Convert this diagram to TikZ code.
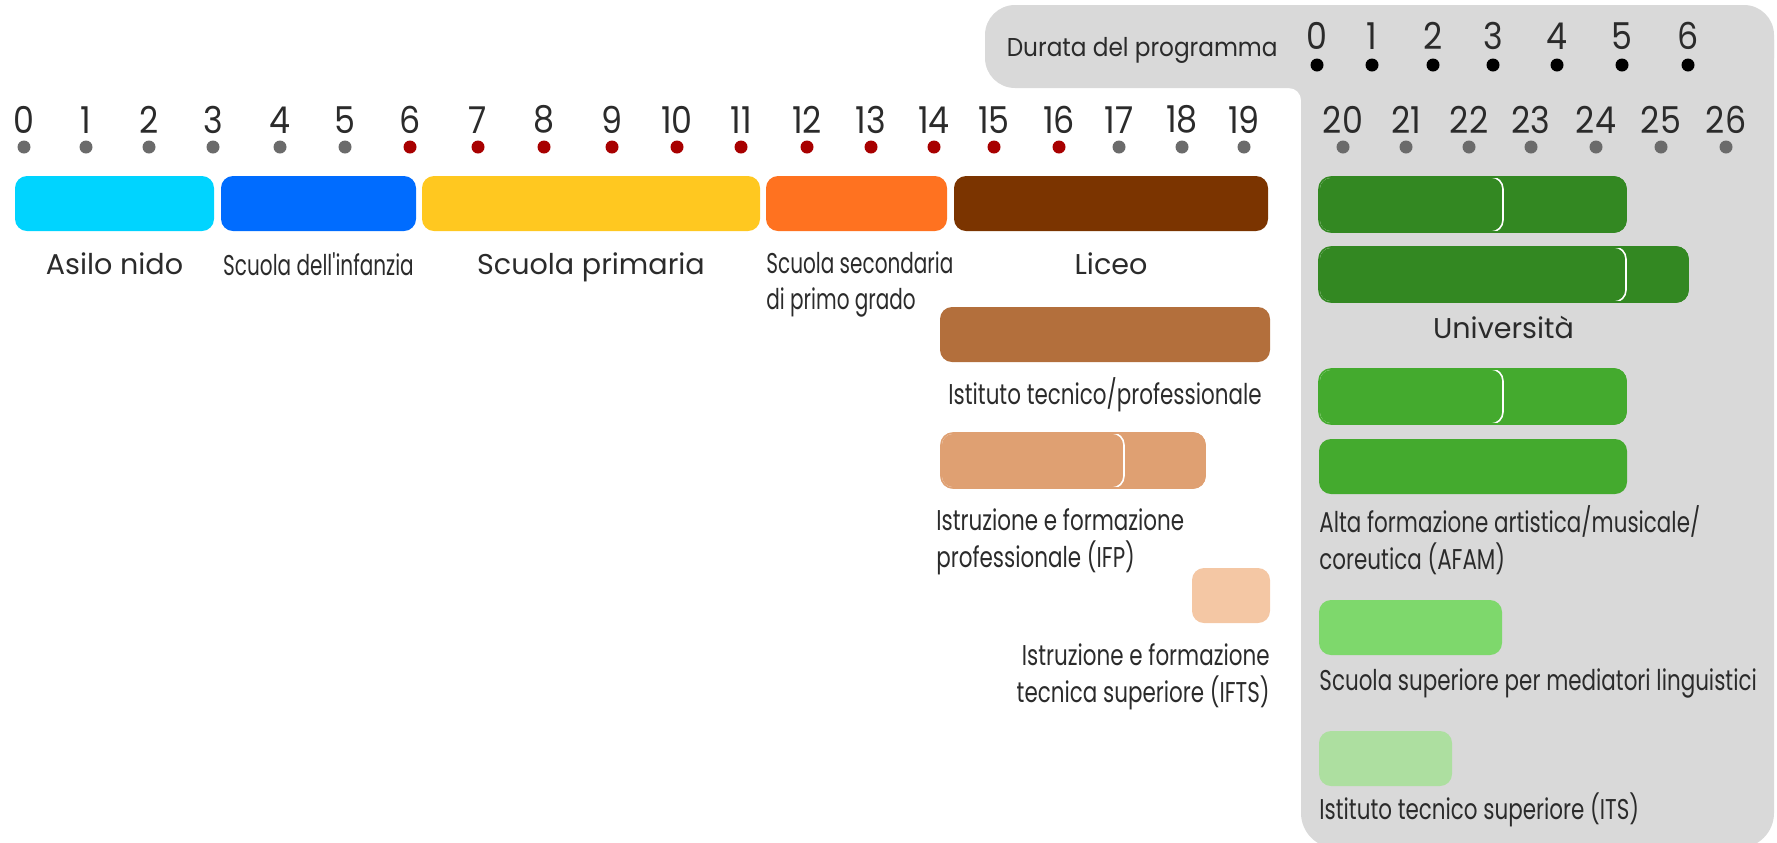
\documentclass[tikz,border=0pt]{standalone}
\usepackage{fontspec}
\setmainfont{Poppins}
\newfontfamily\numfont[FakeStretch=0.90]{Poppins}
\newfontfamily\bigfont{Poppins}
\newfontfamily\lblfont[FakeStretch=0.75]{Poppins}
\newfontfamily\narrowfont[FakeStretch=0.70]{Poppins}
\usetikzlibrary{positioning}
\usepackage{xcolor}
\definecolor{Ink}{HTML}{2B2B2B}
\definecolor{Panel}{HTML}{D9D9D9}
\definecolor{DotGrey}{HTML}{6B6B6B}
\definecolor{DotRed}{HTML}{A80000}
\definecolor{Nido}{HTML}{00D4FF}
\definecolor{Infanzia}{HTML}{006CFF}
\definecolor{Primaria}{HTML}{FFC820}
\definecolor{Secondaria}{HTML}{FF7220}
\definecolor{Liceo}{HTML}{7B3400}
\definecolor{Tecnico}{HTML}{B36F3C}
\definecolor{IFP}{HTML}{DFA072}
\definecolor{IFTS}{HTML}{F4C7A4}
\definecolor{Univ}{HTML}{338822}
\definecolor{AFAM}{HTML}{44AA2E}
\definecolor{Mediatori}{HTML}{7ED86C}
\definecolor{ITS}{HTML}{ADDFA0}
\tikzset{%
  bar/.style={%
    rectangle,%
    rounded corners=6pt,%
    minimum height=27.5pt,%
    inner sep=0pt,%
    outer sep=0pt,%
    anchor=north west,%
  },
  split_bar/.style={%
    bar,%
    draw=white,%
    line width=0.8pt,%
  },
  dot/.style={%
    circle,%
    inner sep=0pt,%
    minimum size=6.5pt,%
  },
  year/.style={%
    font={\numfont\fontsize{18.5}{18.5}\selectfont},%
    text=Ink,%
    inner sep=0pt,%
  },
  big_label/.style={%
    font={\bigfont\fontsize{14.3}{18}\selectfont},%
    text=Ink,%
    inner sep=0pt,%
  },
  small_label/.style={%
    font={\lblfont\fontsize{14.3}{18.5}\selectfont},%
    text=Ink,%
    inner sep=0pt,%
  },
  narrow_label/.style={%
    font={\narrowfont\fontsize{14.3}{18}\selectfont},%
    text=Ink,%
    inner sep=0pt,%
  },
}

\begin{document}
\begin{tikzpicture}[x=0.5pt, y=-0.5pt]

  \useasboundingbox (0,0) rectangle (1777,842);

  % panel for the programmes after 19
  \fill [Panel, rounded corners=15pt] (985,5) rectangle (1774,88);
  \fill [Panel, rounded corners=17.5pt] (1301,5) rectangle (1774,848);
  \fill [Panel] (1301,88) -- (1301,100) .. controls (1301,93.4) and (1295.6,88) .. (1289,88) -- cycle;

  % ages
  \foreach \n/\x in {0/24, 1/86, 2/149, 3/213, 4/280, 5/345}
  {
    \node [dot, fill=DotGrey] (age\n) at (\x,147) {};
    \node [year, above=3.25pt of age\n] (age\n_lab) {\n};
  }
  \foreach \n/\x in {6/410, 7/478, 8/544, 9/612, 10/677, 11/741,
                     12/807, 13/871, 14/934, 15/994, 16/1059}
  {
    \node [dot, fill=DotRed] (age\n) at (\x,147) {};
    \node [year, above=3.25pt of age\n] (age\n_lab) {\n};
  }
  \foreach \n/\x in {17/1119, 18/1182, 19/1244, 20/1343, 21/1406,
                     22/1469, 23/1531, 24/1596, 25/1661, 26/1726}
  {
    \node [dot, fill=DotGrey] (age\n) at (\x,147) {};
    \node [year, above=3.25pt of age\n] (age\n_lab) {\n};
  }

  % programme length
  \foreach \n/\x in {0/1317, 1/1372, 2/1433, 3/1493, 4/1557, 5/1622, 6/1688}
  {
    \node [dot, fill=black] (dur\n) at (\x,65) {};
    \node [year, above=4pt of dur\n] (dur\n_lab) {\n};
  }
  \node [big_label, font={\numfont\fontsize{12.9}{15}\selectfont}, anchor=base east]
    (durata) at (1278,56) {Durata del programma};

  % first row
  \node [bar, fill=Nido, minimum width=99.5pt] (nido) at (15,176) {};
  \node [bar, fill=Infanzia, minimum width=97.5pt] (infanzia) at (221,176) {};
  \node [bar, fill=Primaria, minimum width=169pt] (primaria) at (422,176) {};
  \node [bar, fill=Secondaria, minimum width=90.5pt] (secondaria) at (766,176) {};
  \node [bar, fill=Liceo, minimum width=157pt] (liceo) at (954,176) {};

  \node [big_label, below=10.5pt of nido] (nido_lab) {Asilo nido};
  \node [narrow_label, below=10.5pt of infanzia] (infanzia_lab) {Scuola dell'infanzia};
  \node [big_label, below=10.5pt of primaria] (primaria_lab) {Scuola primaria};
  \node [narrow_label, below=10.3pt of secondaria.south west, anchor=north west,
         align=left] (secondaria_lab) {Scuola secondaria\\di primo grado};
  \node [big_label, below=10.5pt of liceo] (liceo_lab) {Liceo};

  % upper secondary, other paths
  \node [bar, fill=Tecnico, minimum width=165pt] (tecnico) at (940,307) {};
  \node [small_label, below=7.5pt of tecnico] (tecnico_lab) {Istituto tecnico/professionale};

  \node [bar, fill=IFP, draw=IFP, line width=0.8pt, minimum width=132pt] (ifp) at (941,433) {};
  \node [split_bar, fill=IFP, minimum width=91.5pt] (ifp_first) at (941,433) {};
  \draw [IFP, line width=0.8pt, rounded corners=6pt] (ifp.north west) rectangle (ifp.south east);
  \node [small_label, below=10.3pt of ifp.south west, anchor=north west, xshift=-2.5pt,
         align=left] (ifp_lab) {Istruzione e formazione\\professionale (IFP)};

  \node [bar, fill=IFTS, minimum width=39pt] (ifts) at (1192,568) {};
  \node [small_label, below=10pt of ifts.south east, anchor=north east,
         align=right] (ifts_lab) {Istruzione e formazione\\tecnica superiore (IFTS)};

  % tertiary
  \node [bar, fill=Univ, draw=Univ, line width=0.8pt, minimum width=153.5pt] (univ_a) at (1319,177) {};
  \node [split_bar, fill=Univ, minimum width=92pt] (univ_a_first) at (1319,177) {};
  \draw [Univ, line width=0.8pt, rounded corners=6pt] (univ_a.north west) rectangle (univ_a.south east);

  \node [bar, fill=Univ, draw=Univ, line width=0.8pt, minimum width=184.5pt] (univ_b) at (1319,247) {};
  \node [split_bar, fill=Univ, minimum width=153.5pt] (univ_b_first) at (1319,247) {};
  \draw [Univ, line width=0.8pt, rounded corners=6pt] (univ_b.north west) rectangle (univ_b.south east);
  \node [big_label, below=7pt of univ_b] (univ_lab) {Università};

  \node [bar, fill=AFAM, draw=AFAM, line width=0.8pt, minimum width=153.5pt] (afam_a) at (1319,369) {};
  \node [split_bar, fill=AFAM, minimum width=92pt] (afam_a_first) at (1319,369) {};
  \draw [AFAM, line width=0.8pt, rounded corners=6pt] (afam_a.north west) rectangle (afam_a.south east);
  \node [bar, fill=AFAM, minimum width=154pt] (afam_b) at (1319,439) {};
  \node [small_label, below=5.5pt of afam_b.south west, anchor=north west,
         align=left] (afam_lab) {Alta formazione artistica/musicale/\\coreutica (AFAM)};

  \node [bar, fill=Mediatori, minimum width=91.5pt] (mediatori) at (1319,600) {};
  \node [small_label, below=6.8pt of mediatori.south west, anchor=north west]
    (mediatori_lab) {Scuola superiore per mediatori linguistici};

  \node [bar, fill=ITS, minimum width=66.5pt] (its) at (1319,731) {};
  \node [small_label, below=3pt of its.south west, anchor=north west]
    (its_lab) {Istituto tecnico superiore (ITS)};

\end{tikzpicture}
\end{document}
